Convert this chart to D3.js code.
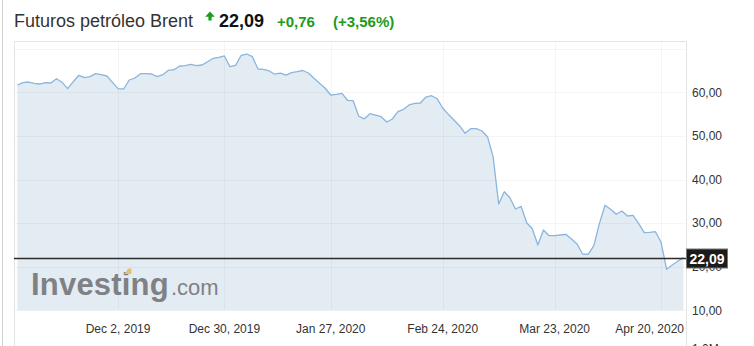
<!DOCTYPE html>
<html lang="es">
<head>
  <meta charset="UTF-8">
  <title>Futuros petróleo Brent</title>
  <script src="https://d3js.org/d3.v7.min.js"></script>
  <style>
    body {
      margin: 0;
      background: #fff;
      font-family: Arial, 'Liberation Sans', sans-serif;
    }

    .grid line {
      stroke: #000;
      stroke-opacity: 0.04;
      shape-rendering: crispEdges;
    }

    .axis text {
      font-size: 12px;
      fill: #333;
    }
  </style>
</head>
<body>
  <svg width="754" height="346"></svg>

  <script>
    // daily closes (one per trading day, Nov 6 2019 .. Apr 24 2020)
    const prices = [
      61.67, 62.20, 62.36, 62.06, 61.90, 62.20, 62.13, 63.12, 62.29, 60.83,
      62.43, 63.90, 63.35, 63.58, 64.27, 64.04, 63.74, 62.29, 60.83, 60.76,
      62.82, 63.28, 64.27, 64.27, 64.20, 63.58, 64.04, 65.05, 65.18, 66.03,
      66.10, 66.42, 66.10, 66.26, 67.02, 67.80, 68.03, 68.33, 65.87, 66.19,
      68.49, 68.78, 68.17, 65.34, 65.28, 64.89, 64.15, 64.38, 63.92, 64.50,
      64.72, 65.00, 64.43, 63.21, 62.06, 60.92, 59.38, 59.54, 59.77, 58.17,
      58.07, 54.50, 53.92, 55.09, 54.79, 54.40, 53.19, 53.88, 55.55, 56.10,
      57.09, 57.48, 57.55, 58.92, 59.22, 58.53, 56.40, 54.95, 53.65, 52.34,
      50.60, 51.65, 51.65, 51.12, 49.82, 45.23, 34.38, 37.20, 35.83, 33.23,
      33.85, 30.09, 28.72, 24.98, 28.42, 27.11, 27.11, 27.27, 27.43, 26.35,
      25.21, 22.91, 22.84, 24.82, 29.95, 34.08, 33.17, 32.02, 32.78, 31.63,
      31.79, 29.95, 27.80, 27.89, 28.03, 25.66, 19.40, 20.39, 21.24, 22.09
    ];

    // x tick labels and the trading-day index they sit on
    const dateLabels = ["Dec 2, 2019", "Dec 30, 2019", "Jan 27, 2020", "Feb 24, 2020", "Mar 23, 2020", "Apr 20, 2020"];
    const dateIndex = [18, 37, 56, 76, 96, 115];

    const priceTicks = [10, 20, 30, 40, 50, 60];
    const gridTicks = [10, 20, 30, 40, 50, 60, 70];

    const lastPrice = 22.09;
    const change = "+0,76";
    const changePct = "(+3,56%)";

    const svg = d3.select("svg");
    const plot = { left: 14, right: 686, top: 41, bottom: 346 };
    const green = "#1c9b1c";

    const x = d3.scaleLinear()
      .domain([0, prices.length - 1])
      .range([17.3, 683.4]);

    const y = d3.scaleLinear()
      .domain([10, 60])
      .range([310.3, 92.3]);

    const comma = v => d3.format(".2f")(v).replace(".", ",");

    // outer page edge
    svg.append("line")
      .attr("x1", 2.5).attr("x2", 2.5)
      .attr("y1", 0).attr("y2", 346)
      .attr("stroke", "#cfcfcf");

    // header
    const head = svg.append("g");
    head.append("text")
      .attr("x", 14).attr("y", 27)
      .style("font-size", "18px")
      .attr("fill", "#333")
      .text("Futuros petróleo Brent");

    head.append("path")
      .attr("d", "M210,11.5 L214.8,16.8 L211.6,16.8 L211.6,20.5 L208.4,20.5 L208.4,16.8 L205.2,16.8 Z")
      .attr("fill", green);

    head.append("text")
      .attr("x", 219).attr("y", 27)
      .style("font-size", "18px")
      .style("font-weight", "bold")
      .attr("fill", "#111")
      .text(comma(lastPrice));

    head.append("text")
      .attr("x", 277).attr("y", 27)
      .style("font-size", "15px")
      .style("font-weight", "bold")
      .attr("fill", green)
      .text(change);

    head.append("text")
      .attr("x", 333).attr("y", 27)
      .style("font-size", "15px")
      .style("font-weight", "bold")
      .attr("fill", green)
      .text(changePct);

    // area + line
    const area = d3.area()
      .x((d, i) => x(i))
      .y0(y(10))
      .y1(d => y(d));

    const line = d3.line()
      .x((d, i) => x(i))
      .y(d => y(d));

    svg.append("path")
      .datum(prices)
      .attr("d", area)
      .attr("fill", "#e4ecf3");

    // watermark
    const wm = svg.append("g");
    wm.append("text")
      .attr("x", 31).attr("y", 295)
      .style("font-size", "31px")
      .style("font-weight", "bold")
      .style("letter-spacing", "0.2px")
      .attr("fill", "#7f8184")
      .text("Investing");
    wm.append("text")
      .attr("x", 171).attr("y", 295)
      .style("font-size", "22px")
      .attr("fill", "#7f8184")
      .text(".com");
    wm.append("path")
      .attr("d", "M124.5,274 L128,268.5 L131.5,268.5 L131.5,274 Z")
      .attr("fill", "#e8c170");

    // grid lines
    svg.append("g")
      .attr("class", "grid")
      .selectAll("line.h")
      .data(gridTicks)
      .enter().append("line")
      .attr("x1", plot.left).attr("x2", plot.right)
      .attr("y1", d => Math.round(y(d)) + 0.5)
      .attr("y2", d => Math.round(y(d)) + 0.5);

    svg.append("g")
      .attr("class", "grid")
      .selectAll("line.v")
      .data(dateIndex)
      .enter().append("line")
      .attr("x1", d => Math.round(x(d)) + 0.5)
      .attr("x2", d => Math.round(x(d)) + 0.5)
      .attr("y1", plot.top).attr("y2", y(10));

    svg.append("path")
      .datum(prices)
      .attr("d", line)
      .attr("fill", "none")
      .attr("stroke", "#8ab5df")
      .attr("stroke-width", 1.3)
      .attr("stroke-linejoin", "round");

    // frame
    svg.append("path")
      .attr("d", `M${plot.left + 0.5},${plot.bottom} V${plot.top + 0.5} H${plot.right + 0.5} V${plot.bottom}`)
      .attr("fill", "none")
      .attr("stroke", "#e3e3e3");

    // x axis labels
    const xAxis = svg.append("g").attr("class", "axis");
    xAxis.selectAll("text")
      .data(dateLabels)
      .enter().append("text")
      .attr("y", 333)
      .each(function(d, i) {
        const cx = x(dateIndex[i]);
        const t = d3.select(this).text(d);
        const w = this.getComputedTextLength();
        if (cx + w / 2 > plot.right - 2) {
          t.attr("x", plot.right - 2).attr("text-anchor", "end");
        } else {
          t.attr("x", cx).attr("text-anchor", "middle");
        }
      });

    // y axis labels
    const yAxis = svg.append("g").attr("class", "axis");
    yAxis.selectAll("text")
      .data(priceTicks)
      .enter().append("text")
      .attr("x", 692)
      .attr("y", d => y(d))
      .attr("dy", "0.35em")
      .text(d => comma(d));

    yAxis.append("text")
      .attr("x", 692)
      .attr("y", 353)
      .text("1,0M");

    // current price line + tag
    const py = Math.round(y(lastPrice)) + 0.5;
    svg.append("line")
      .attr("x1", plot.left).attr("x2", plot.right)
      .attr("y1", py).attr("y2", py)
      .attr("stroke", "#2b2b2b")
      .attr("stroke-width", 1.5);

    svg.append("rect")
      .attr("x", 686.5).attr("y", py - 9.5)
      .attr("width", 41).attr("height", 19)
      .attr("fill", "#1b1b1b")
      .attr("stroke", "#777");

    svg.append("text")
      .attr("x", 707).attr("y", py)
      .attr("dy", "0.36em")
      .attr("text-anchor", "middle")
      .style("font-size", "14px")
      .style("font-weight", "bold")
      .attr("fill", "#fff")
      .text(comma(lastPrice));
  </script>
</body>
</html>
